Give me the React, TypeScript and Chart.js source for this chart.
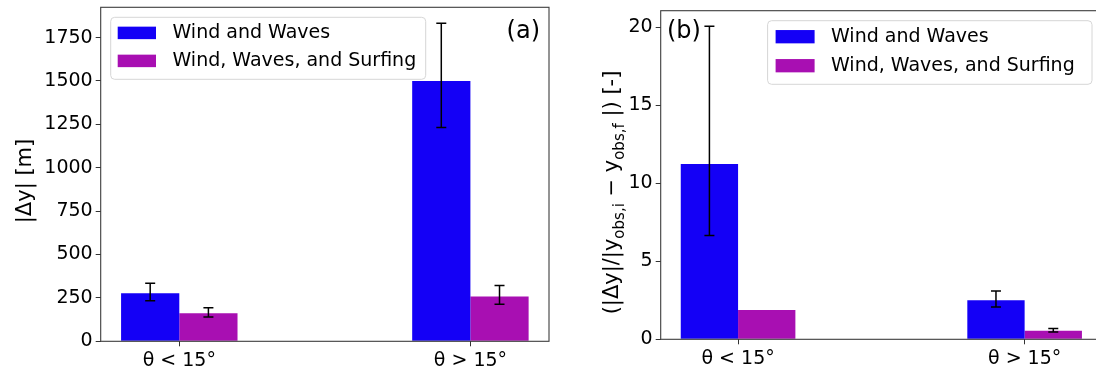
import React, { useEffect, useRef } from "react";
import { Chart, registerables } from "chart.js";

Chart.register(...registerables);

const categories = ["θ < 15°", "θ > 15°"];
const seriesNames = ["Wind and Waves", "Wind, Waves, and Surfing"];
const seriesColors = ["#1400F6", "#A80FB2"];

// (a) absolute shoreline change |Δy| [m], with lower / upper error limits
const absWind = [277, 1500];
const absWindLow = [234, 1232];
const absWindHigh = [335, 1833];
const absSurf = [162, 258];
const absSurfLow = [140, 214];
const absSurfHigh = [193, 322];
const absTicks = [0, 250, 500, 750, 1000, 1250, 1500, 1750];

// (b) change relative to the observed change [-]
const relWind = [11.25, 2.51];
const relWindLow = [6.65, 2.07];
const relWindHigh = [20.07, 3.09];
const relSurf = [1.88, 0.55];
const relSurfLow: (number | null)[] = [null, 0.47];
const relSurfHigh: (number | null)[] = [null, 0.69];
const relTicks = [0, 5, 10, 15, 20];

const FONT = "'DejaVu Sans', 'Liberation Sans', sans-serif";

type Seg = { text: string; sub?: boolean };

const panels = [
  {
    key: "a",
    left: 0,
    width: 560,
    yAxisWidth: 100.7,
    xAxisHeight: 24.7,
    padTop: 7.3,
    padRight: 11,
    values: [absWind, absSurf],
    low: [absWindLow, absSurfLow],
    high: [absWindHigh, absSurfHigh],
    ticks: absTicks,
    legend: { x: 110.7, y: 17.3, w: 315, h: 62, patchX: 117.7, patchW: 38.3, patchH: 12.5, rows: [32.9, 60.9], textX: 172.5 },
    tag: { text: "(a)", x: 540, y: 37.5, align: "right" as CanvasTextAlign },
    title: { cx: 24, cy: 181, size: 21, segs: [{ text: "|Δy| [m]" }] as Seg[] },
  },
  {
    key: "b",
    left: 560,
    width: 560,
    yAxisWidth: 100.7,
    xAxisHeight: 26.7,
    padTop: 10.7,
    padRight: 18,
    values: [relWind, relSurf],
    low: [relWindLow, relSurfLow],
    high: [relWindHigh, relSurfHigh],
    ticks: relTicks,
    legend: { x: 207.6, y: 20.7, w: 324.4, h: 63.6, patchX: 215.6, patchW: 39, patchH: 13.3, rows: [36.7, 65.7], textX: 271 },
    tag: { text: "(b)", x: 107, y: 37.5, align: "left" as CanvasTextAlign },
    title: {
      cx: 51.5,
      cy: 192.5,
      size: 21,
      segs: [
        { text: "(|Δy|/|y" },
        { text: "obs,i", sub: true },
        { text: " − y" },
        { text: "obs,f", sub: true },
        { text: " |) [-]" },
      ] as Seg[],
    },
  },
];

type Panel = (typeof panels)[number];

function decorPlugin(p: Panel) {
  return {
    id: "decor" + p.key,
    afterDatasetsDraw(chart: any) {
      const { ctx, scales } = chart;
      const ys = scales.y;
      ctx.save();
      ctx.strokeStyle = "#000";
      ctx.lineWidth = 1.5;
      p.low.forEach((lowArr, di) => {
        const highArr = p.high[di];
        const meta = chart.getDatasetMeta(di);
        meta.data.forEach((bar: any, i: number) => {
          const lo = lowArr[i];
          const hi = highArr[i];
          if (lo == null || hi == null) return;
          const x = bar.x;
          const yl = ys.getPixelForValue(lo);
          const yh = ys.getPixelForValue(hi);
          ctx.beginPath();
          ctx.moveTo(x, yl);
          ctx.lineTo(x, yh);
          ctx.moveTo(x - 5, yl);
          ctx.lineTo(x + 5, yl);
          ctx.moveTo(x - 5, yh);
          ctx.lineTo(x + 5, yh);
          ctx.stroke();
        });
      });
      ctx.restore();
    },
    afterDraw(chart: any) {
      const { ctx, chartArea: ca } = chart;
      ctx.save();
      // axes frame
      ctx.strokeStyle = "#3c3c3c";
      ctx.lineWidth = 1.1;
      ctx.strokeRect(ca.left, ca.top, ca.right - ca.left, ca.bottom - ca.top);

      // legend
      const lg = p.legend;
      ctx.beginPath();
      ctx.roundRect(lg.x, lg.y, lg.w, lg.h, 4);
      ctx.fillStyle = "rgba(255,255,255,0.85)";
      ctx.fill();
      ctx.strokeStyle = "#d6d6d6";
      ctx.lineWidth = 1;
      ctx.stroke();
      ctx.font = `19px ${FONT}`;
      ctx.textBaseline = "middle";
      ctx.textAlign = "left";
      chart.data.datasets.forEach((ds: any, i: number) => {
        const cy = lg.rows[i];
        ctx.fillStyle = ds.backgroundColor;
        ctx.fillRect(lg.patchX, cy - lg.patchH / 2, lg.patchW, lg.patchH);
        ctx.fillStyle = "#000";
        ctx.fillText(ds.label, lg.textX, cy);
      });

      // panel tag
      ctx.font = `24px ${FONT}`;
      ctx.textBaseline = "alphabetic";
      ctx.textAlign = p.tag.align;
      ctx.fillStyle = "#000";
      ctx.fillText(p.tag.text, p.tag.x, p.tag.y);

      // rotated y-axis title with subscripts
      const t = p.title;
      const mainFont = `${t.size}px ${FONT}`;
      const subFont = `${Math.round(t.size * 0.7)}px ${FONT}`;
      let total = 0;
      const widths = t.segs.map((s) => {
        ctx.font = s.sub ? subFont : mainFont;
        const w = ctx.measureText(s.text).width;
        total += w;
        return w;
      });
      ctx.translate(t.cx, t.cy);
      ctx.rotate(-Math.PI / 2);
      ctx.textAlign = "left";
      ctx.textBaseline = "alphabetic";
      let x = -total / 2;
      const base = t.size * 0.31;
      t.segs.forEach((s, i) => {
        ctx.font = s.sub ? subFont : mainFont;
        ctx.fillText(s.text, x, s.sub ? base + t.size * 0.3 : base);
        x += widths[i];
      });
      ctx.restore();
    },
  };
}

function PanelChart({ p }: { p: Panel }) {
  const ref = useRef<HTMLCanvasElement | null>(null);

  useEffect(() => {
    if (!ref.current) return;
    const yMax = Math.max(...p.high.flat().filter((v): v is number => v != null)) * 1.05;
    const chart = new Chart(ref.current, {
      type: "bar",
      data: {
        datasets: p.values.map((vals, di) => ({
          label: seriesNames[di],
          backgroundColor: seriesColors[di],
          borderWidth: 0,
          categoryPercentage: 0.4,
          barPercentage: 1,
          data: vals.map((v, i) => ({ x: i, y: v })),
        })),
      },
      options: {
        animation: false,
        responsive: false,
        devicePixelRatio: 1,
        events: [],
        font: { family: FONT },
        layout: { padding: { top: p.padTop, right: p.padRight, left: 0, bottom: 0 } },
        plugins: {
          legend: { display: false },
          tooltip: { enabled: false },
        },
        scales: {
          x: {
            type: "linear",
            min: -0.27,
            max: 1.27,
            offset: false,
            border: { display: false },
            grid: {
              offset: false,
              drawOnChartArea: false,
              drawTicks: true,
              tickLength: 5,
              color: "#333",
            },
            ticks: {
              color: "#000",
              padding: 3,
              font: { family: FONT, size: 19 },
              callback: (v: any) => categories[Math.round(Number(v))],
            },
            afterBuildTicks: (s: any) => {
              s.ticks = categories.map((_, i) => ({ value: i }));
            },
            afterFit: (s: any) => {
              s.height = p.xAxisHeight;
              s.paddingLeft = 0;
              s.paddingRight = 0;
            },
          },
          y: {
            type: "linear",
            min: 0,
            max: yMax,
            border: { display: false },
            grid: {
              drawOnChartArea: false,
              drawTicks: true,
              tickLength: 5,
              color: "#333",
            },
            ticks: {
              color: "#000",
              padding: 3,
              font: { family: FONT, size: 19 },
              callback: (v: any) => String(v),
            },
            afterBuildTicks: (s: any) => {
              s.ticks = p.ticks.map((v) => ({ value: v }));
            },
            afterFit: (s: any) => {
              s.width = p.yAxisWidth;
              s.paddingTop = 0;
              s.paddingBottom = 0;
            },
          },
        },
      } as any,
      plugins: [decorPlugin(p)],
    });
    return () => chart.destroy();
  }, [p]);

  return (
    <canvas
      ref={ref}
      width={p.width}
      height={366}
      style={{ position: "absolute", left: p.left, top: 0, width: p.width, height: 366, display: "block" }}
    />
  );
}

export default function App() {
  return (
    <div
      style={{
        position: "absolute",
        left: 0,
        top: 0,
        width: 1096,
        height: 366,
        overflow: "hidden",
        background: "#fff",
      }}
    >
      {panels.map((p) => (
        <PanelChart key={p.key} p={p} />
      ))}
    </div>
  );
}
